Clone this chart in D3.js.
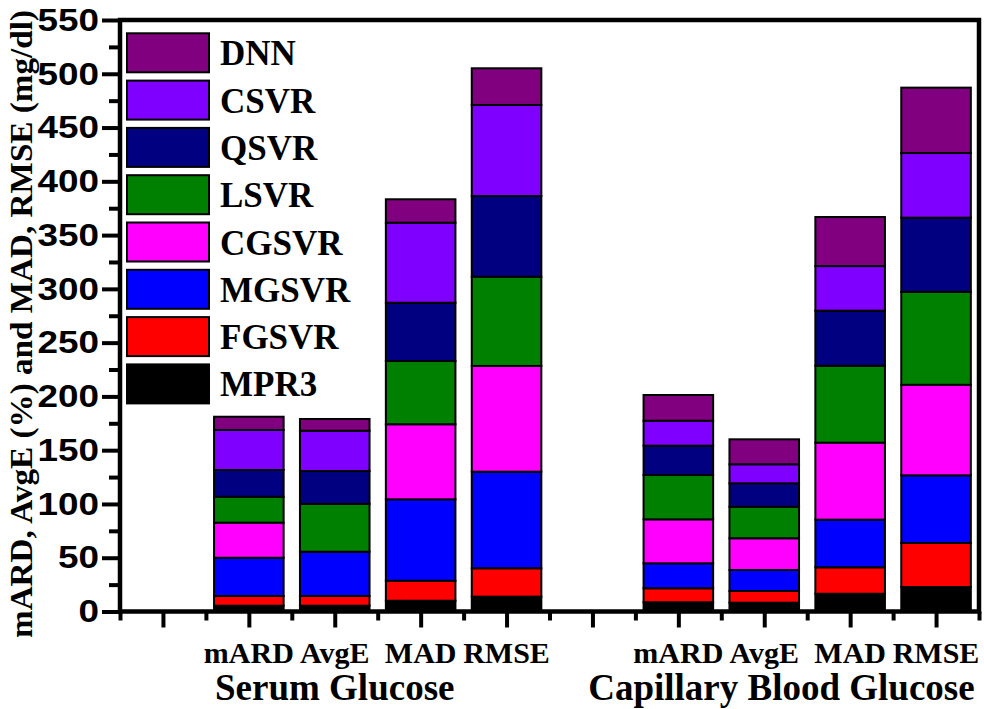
<!DOCTYPE html>
<html>
<head>
<meta charset="utf-8">
<script src="https://cdn.jsdelivr.net/npm/d3@7"></script>
<style>
  html, body { margin: 0; padding: 0; background: #fff; }
  svg { display: block; }
</style>
</head>
<body>
<svg id="chart" width="984" height="709"></svg>
<script>
// ---------------- data ----------------
const categories = ["S-mARD", "S-AvgE", "S-MAD", "S-RMSE", "C-mARD", "C-AvgE", "C-MAD", "C-RMSE"];
const tickLabels = ["mARD", "AvgE", "MAD", "RMSE", "mARD", "AvgE", "MAD", "RMSE"];
const groupLabels = ["Serum Glucose", "Capillary Blood Glucose"];
const seriesNames = ["MPR3", "FGSVR", "MGSVR", "CGSVR", "LSVR", "QSVR", "CSVR", "DNN"];
const seriesColors = ["#000000", "#ff0000", "#0000ff", "#ff00ff", "#008000", "#000080", "#8000ff", "#800080"];

const MPR3  = [5.4, 5.4, 10.0, 13.8, 8.6, 8.2, 16.5, 22.8];
const FGSVR = [9.0, 9.0, 18.6, 26.4, 13.0, 10.9, 24.6, 40.9];
const MGSVR = [35.6, 41.2, 75.7, 89.8, 23.2, 19.5, 44.3, 62.9];
const CGSVR = [32.6, 0, 69.8, 98.3, 40.9, 29.5, 71.6, 84.2];
const LSVR  = [24.1, 44.4, 58.8, 83.0, 41.2, 29.3, 71.5, 86.5];
const QSVR  = [24.9, 30.6, 54.2, 75.0, 27.3, 21.8, 51.2, 68.9];
const CSVR  = [37.2, 37.5, 74.4, 84.7, 23.2, 17.7, 41.5, 60.1];
const DNN   = [12.3, 10.9, 21.8, 34.1, 23.9, 23.2, 45.6, 60.8];

const yTicks = [0, 50, 100, 150, 200, 250, 300, 350, 400, 450, 500, 550];
const yTitle = "mARD, AvgE (%) and MAD, RMSE (mg/dl)";

// slot layout along x (two empty slots as spacers)
const slots = ["pad", categories[0], categories[1], categories[2], categories[3], "gap",
               categories[4], categories[5], categories[6], categories[7]];

// ---------------- build table ----------------
const seriesValues = { MPR3, FGSVR, MGSVR, CGSVR, LSVR, QSVR, CSVR, DNN };
const table = categories.map((c, i) => {
  const row = { cat: c };
  seriesNames.forEach(s => row[s] = seriesValues[s][i]);
  return row;
});
const stacked = d3.stack().keys(seriesNames)(table);
const color = d3.scaleOrdinal().domain(seriesNames).range(seriesColors);

// ---------------- layout ----------------
const L = 120, R = 979, T = 20, B = 611.5;
const SERIF = "'Liberation Serif', 'Times New Roman', serif";
const SANS = "'Liberation Sans', Arial, sans-serif";
const svg = d3.select("#chart");

const x = d3.scaleBand().domain(slots).range([L, R]).paddingInner(0.19).paddingOuter(0.095);
const xl = d3.scaleLinear().domain([0.5, 10.5]).range([L, R]);
const y = d3.scaleLinear().domain([0, 550]).range([B, T]);

// bars
const gBars = svg.append("g");
stacked.forEach(layer => {
  gBars.append("g")
    .attr("fill", color(layer.key))
    .selectAll("rect")
    .data(layer)
    .join("rect")
    .attr("x", d => x(d.data.cat))
    .attr("width", x.bandwidth())
    .attr("y", d => y(d[1]))
    .attr("height", d => y(d[0]) - y(d[1]))
    .attr("stroke", "#000")
    .attr("stroke-width", 2);
});

// y axis ticks
const yMinor = d3.range(25, 550, 50);
const gy = svg.append("g").attr("transform", `translate(${L},0)`);
gy.call(d3.axisLeft(y).tickValues(yTicks).tickSize(18).tickPadding(3).tickFormat(d3.format("d")));
gy.select(".domain").remove();
gy.selectAll(".tick line").attr("stroke", "#000").attr("stroke-width", 4);
gy.selectAll(".tick text")
  .style("font-family", SANS)
  .style("font-weight", "bold")
  .style("font-size", "32px")
  .attr("fill", "#000")
  .attr("textLength", d => String(d).length * 20.5)
  .attr("lengthAdjust", "spacingAndGlyphs");

const gy2 = svg.append("g").attr("transform", `translate(${L},0)`);
gy2.call(d3.axisLeft(y).tickValues(yMinor).tickSize(11).tickFormat(""));
gy2.select(".domain").remove();
gy2.selectAll(".tick line").attr("stroke", "#000").attr("stroke-width", 4);

// x axis ticks
const gx = svg.append("g").attr("transform", `translate(0,${B})`);
gx.call(d3.axisBottom(xl).tickValues(d3.range(1, 11)).tickSize(16).tickFormat(""));
gx.select(".domain").remove();
gx.selectAll(".tick line").attr("stroke", "#000").attr("stroke-width", 4);
const gx2 = svg.append("g").attr("transform", `translate(0,${B})`);
gx2.call(d3.axisBottom(xl).tickValues(d3.range(0.5, 11, 1)).tickSize(9).tickFormat(""));
gx2.select(".domain").remove();
gx2.selectAll(".tick line").attr("stroke", "#000").attr("stroke-width", 4);

// frame
svg.append("rect")
  .attr("x", L).attr("y", T).attr("width", R - L).attr("height", B - T)
  .attr("fill", "none").attr("stroke", "#000").attr("stroke-width", 4.5);

// category labels
svg.append("g").selectAll("text")
  .data(categories)
  .join("text")
  .attr("x", d => x(d) + x.bandwidth() / 2)
  .attr("y", 663)
  .attr("text-anchor", "middle")
  .style("font-family", SERIF)
  .style("font-weight", "bold")
  .style("font-size", "30px")
  .text((d, i) => tickLabels[i]);

// group labels
const groupCenters = [xl(3.0), xl(8.2)];
svg.append("g").selectAll("text")
  .data(groupLabels)
  .join("text")
  .attr("x", (d, i) => groupCenters[i])
  .attr("y", 700)
  .attr("text-anchor", "middle")
  .style("font-family", SERIF)
  .style("font-weight", "bold")
  .style("font-size", "37px")
  .text(d => d);

// y title
svg.append("text")
  .attr("transform", `translate(32,324) rotate(-90)`)
  .attr("text-anchor", "middle")
  .style("font-family", SERIF)
  .style("font-weight", "bold")
  .style("font-size", "32px")
  .attr("textLength", 628)
  .attr("lengthAdjust", "spacingAndGlyphs")
  .text(yTitle);

// legend (top to bottom: DNN ... MPR3)
const legendOrder = seriesNames.slice().reverse();
const lg = svg.append("g").attr("transform", "translate(127,33.3)");
const items = lg.selectAll("g").data(legendOrder).join("g")
  .attr("transform", (d, i) => `translate(0,${i * 47.3})`);
items.append("rect")
  .attr("width", 82).attr("height", 39)
  .attr("fill", d => color(d))
  .attr("stroke", "#000").attr("stroke-width", 2);
items.append("text")
  .attr("x", 93).attr("y", 32)
  .style("font-family", SERIF)
  .style("font-weight", "bold")
  .style("font-size", "35px")
  .text(d => d);
</script>
</body>
</html>
